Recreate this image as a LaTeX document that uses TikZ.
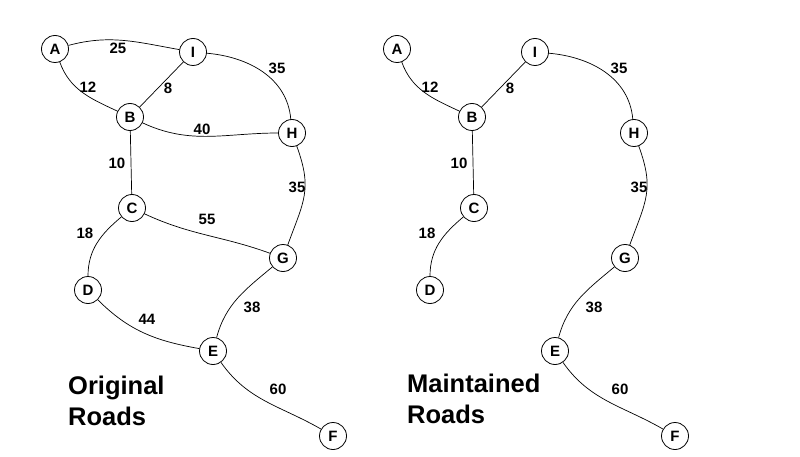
\documentclass[tikz,border=0pt]{standalone}
\usepackage{fontspec}
\setmainfont{Liberation Sans}
\usetikzlibrary{positioning}

\begin{document}
\begin{tikzpicture}[
  x=1pt,y=1pt,
  font=\bfseries\fontsize{15}{17}\selectfont,
  town/.style={draw,circle,line width=0.8pt,minimum size=27pt,inner sep=0pt},
  road/.style={line width=0.7pt},
  dist/.style={inner sep=0pt},
  title/.style={align=left,anchor=north west,inner sep=0pt,
    font=\bfseries\fontsize{25.5}{31}\selectfont}
]
\useasboundingbox (0,0) rectangle (800,456);

% original roads
\node[town] (oA) at (55,407) {A};
\node[town] (oI) at (193,404) {I};
\node[town] (oB) at (130,339) {B};
\node[town] (oH) at (292,323) {H};
\node[town] (oC) at (132,248) {C};
\node[town] (oG) at (283,198) {G};
\node[town] (oD) at (88,166) {D};
\node[town] (oE) at (213,105) {E};
\node[town] (oF) at (333,20) {F};

\draw[road] (oA) to[out=15,in=170] (oI);
\draw[road] (oA) to[out=-70,in=155] (oB);
\draw[road] (oI) -- (oB);
\draw[road] (oI) to[out=-5,in=95] (oH);
\draw[road] (oB) to[out=-25,in=180] (oH);
\draw[road] (oB) -- (oC);
\draw[road] (oH) to[out=-70,in=70,looseness=1.2] (oG);
\draw[road] (oC) to[out=-25,in=160] (oG);
\draw[road] (oC) to[out=-140,in=90] (oD);
\draw[road] (oD) to[out=-45,in=170] (oE);
\draw[road] (oG) to[out=-140,in=75] (oE);
\draw[road] (oE) to[out=-55,in=150] (oF);

\node[dist] (oAI) at (118,408) {25};
\node[dist] (oAB) at (88,369) {12};
\node[dist] (oIB) at (168,368) {8};
\node[dist] (oIH) at (277,388) {35};
\node[dist] (oBH) at (202,327) {40};
\node[dist] (oBC) at (117,293) {10};
\node[dist] (oHG) at (297,269) {35};
\node[dist] (oCG) at (207,237) {55};
\node[dist] (oCD) at (85,223) {18};
\node[dist] (oDE) at (147,137) {44};
\node[dist] (oGE) at (252,149) {38};
\node[dist] (oEF) at (278,67) {60};

\node[title] (original) at (68,80) {Original\\Roads};

% maintained roads
\begin{scope}[xshift=342pt]
\node[town] (mA) at (55,407) {A};
\node[town] (mI) at (193,404) {I};
\node[town] (mB) at (130,339) {B};
\node[town] (mH) at (292,323) {H};
\node[town] (mC) at (132,248) {C};
\node[town] (mG) at (283,198) {G};
\node[town] (mD) at (88,166) {D};
\node[town] (mE) at (213,105) {E};
\node[town] (mF) at (333,20) {F};

\draw[road] (mA) to[out=-70,in=155] (mB);
\draw[road] (mI) -- (mB);
\draw[road] (mI) to[out=-5,in=95] (mH);
\draw[road] (mB) -- (mC);
\draw[road] (mH) to[out=-70,in=70,looseness=1.2] (mG);
\draw[road] (mC) to[out=-140,in=90] (mD);
\draw[road] (mG) to[out=-140,in=75] (mE);
\draw[road] (mE) to[out=-55,in=150] (mF);

\node[dist] (mAB) at (88,369) {12};
\node[dist] (mIB) at (168,368) {8};
\node[dist] (mIH) at (277,388) {35};
\node[dist] (mBC) at (117,293) {10};
\node[dist] (mHG) at (297,269) {35};
\node[dist] (mCD) at (85,223) {18};
\node[dist] (mGE) at (252,149) {38};
\node[dist] (mEF) at (278,67) {60};
\end{scope}

\node[title] (maintained) at (407,82) {Maintained\\Roads};
\end{tikzpicture}
\end{document}
